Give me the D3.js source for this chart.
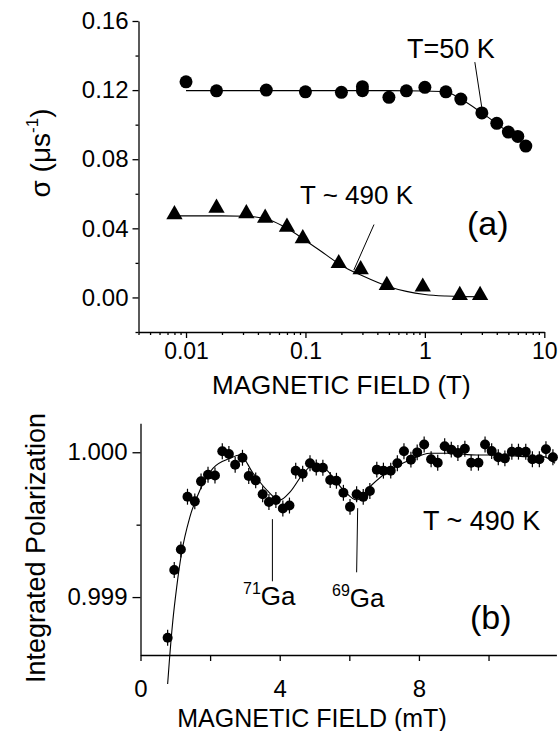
<!DOCTYPE html>
<html>
<head>
<meta charset="utf-8">
<script src="https://cdn.jsdelivr.net/npm/d3@7"></script>
<style>
body { margin: 0; background: #fff; }
text { font-family: "Liberation Sans", Arial, Helvetica, sans-serif; fill: #000; }
.axis path, .axis line { stroke: #000; stroke-width: 1.3; }
</style>
</head>
<body>
<svg id="chart" width="560" height="731"></svg>
<script>
// ---- panel (a): relaxation rate vs field (log axis) ----
var field50 = [0.01, 0.018, 0.047, 0.1, 0.2, 0.3, 0.3, 0.5, 0.7, 1.0, 1.5, 2.0, 3.0, 4.0, 5.0, 6.0, 7.0];
var sigma50 = [0.1248, 0.1196, 0.1200, 0.1190, 0.1187, 0.1220, 0.1197, 0.1158, 0.1196, 0.1216, 0.1190, 0.1148, 0.1068, 0.1008, 0.0957, 0.0932, 0.0876];
var fitField50 = [0.01, 0.1, 0.5, 1.0, 1.5, 2.0, 3.0, 4.0, 5.0, 7.0];
var fitSigma50 = [0.1197, 0.1197, 0.1197, 0.1195, 0.1190, 0.1148, 0.1068, 0.1006, 0.0955, 0.0878];

var field490 = [0.008, 0.018, 0.032, 0.046, 0.07, 0.095, 0.19, 0.29, 0.48, 0.96, 1.96, 2.9];
var sigma490 = [0.0480, 0.0518, 0.0486, 0.0460, 0.0408, 0.0341, 0.0197, 0.0162, 0.0071, 0.0061, 0.0013, 0.0013];
var fitField490 = [0.008, 0.02, 0.032, 0.05, 0.07, 0.1, 0.15, 0.2, 0.3, 0.5, 0.7, 1.0, 1.5, 2.0, 3.0];
var fitSigma490 = [0.0472, 0.0472, 0.0470, 0.0448, 0.0400, 0.0330, 0.0245, 0.0185, 0.0125, 0.0062, 0.0035, 0.0017, 0.0008, 0.0005, 0.0004];

var xTicksA = [0.01, 0.1, 1, 10];
var xLabelsA = ["0.01", "0.1", "1", "10"];
var yTicksA = [0.00, 0.04, 0.08, 0.12, 0.16];
var yLabelsA = ["0.00", "0.04", "0.08", "0.12", "0.16"];

// ---- panel (b): integrated polarization vs field (mT) ----
var fieldB = [0.78, 0.97, 1.16, 1.35, 1.56, 1.74, 1.94, 2.14, 2.35, 2.54, 2.72, 2.93, 3.11, 3.31, 3.51, 3.69, 3.89, 4.09, 4.28,
  4.46, 4.66, 4.87, 5.05, 5.24, 5.45, 5.63, 5.83, 6.02, 6.21, 6.40, 6.59, 6.79, 6.98, 7.19, 7.38, 7.57, 7.77, 7.95, 8.15,
  8.35, 8.54, 8.74, 8.93, 9.12, 9.32, 9.50, 9.71, 9.90, 10.09, 10.28, 10.47, 10.67, 10.86, 11.07, 11.26, 11.46, 11.65, 11.85];
var polB = [0.998719, 0.999187, 0.999328, 0.999693, 0.999661, 0.999799, 0.999845, 0.999839, 1.000007, 0.999988, 0.999914,
  0.999962, 0.999836, 0.999806, 0.999710, 0.999656, 0.999670, 0.999612, 0.999632, 0.999872, 0.999852, 0.999924, 0.999895,
  0.999893, 0.999808, 0.999803, 0.999720, 0.999623, 0.999710, 0.999692, 0.999733, 0.999880, 0.999873, 0.999873, 0.999924,
  1.000007, 0.999949, 0.999999, 1.000054, 0.999952, 0.999928, 1.000042, 1.000018, 0.999995, 1.000024, 0.999928, 0.999928,
  1.000054, 1.000008, 0.999965, 0.999958, 1.000004, 1.000004, 1.000004, 0.999952, 0.999952, 1.000021, 0.999965];
var polErr = 0.000055;
var fitFieldB = [0.78, 0.83, 0.93, 1.04, 1.18, 1.42, 1.71, 2.08, 2.57, 2.86, 3.23, 3.63, 4.0, 4.30, 4.68, 5.06, 5.35, 5.83,
  6.21, 6.59, 7.17, 7.74, 8.32, 8.89, 9.66, 10.24, 11.0, 11.57, 11.91];
var fitPolB = [0.998400, 0.998562, 0.998839, 0.999069, 0.999303, 0.999554, 0.999739, 0.999889, 0.999958, 0.999981, 0.999857,
  0.999739, 0.999670, 0.999727, 0.999855, 0.999924, 0.999877, 0.999739, 0.999670, 0.999762, 0.999877, 0.999947, 0.999993,
  0.999993, 0.999981, 0.999981, 0.999970, 0.999970, 0.999924];

var xTicksB = [0, 2, 4, 6, 8, 10];
var xLabelsB = ["0", "", "4", "", "8", ""];
var yTicksB = [0.999, 1.000];
var yLabelsB = ["0.999", "1.000"];

var svg = d3.select('#chart');

function zip(xs, ys) {
  return xs.map(function(x, i) { return { x: x, y: ys[i] }; });
}

// ================= panel (a) =================
var xA = d3.scaleLog().domain([0.004, 10]).range([138.5, 544.3]);
var yA = d3.scaleLinear().domain([-0.02, 0.16]).range([332, 21]);

var minorA = [];
[0.001, 0.01, 0.1, 1].forEach(function(d) {
  for (var k = 2; k <= 9; k++) {
    var v = d * k;
    if (v >= 0.004 && v <= 10) minorA.push(v);
  }
});

var gxA = svg.append('g').attr('class', 'axis').attr('transform', 'translate(0,332)');
gxA.call(d3.axisBottom(xA).tickValues(minorA).tickSize(3).tickSizeOuter(0).tickFormat(''));
var gxA2 = svg.append('g').attr('class', 'axis').attr('transform', 'translate(0,332)');
gxA2.call(d3.axisBottom(xA).tickValues(xTicksA).tickSize(6).tickSizeOuter(0)
  .tickFormat(function(d, i) { return xLabelsA[i]; }));
gxA2.select('.domain').remove();
gxA2.selectAll('text').attr('font-size', 23).attr('dy', null).attr('y', 27).attr('font-family', null);

var gyA = svg.append('g').attr('class', 'axis').attr('transform', 'translate(138.5,0)');
gyA.call(d3.axisLeft(yA).tickValues([-0.02, 0.02, 0.06, 0.10, 0.14]).tickSize(3).tickSizeOuter(0).tickFormat(''));
var gyA2 = svg.append('g').attr('class', 'axis').attr('transform', 'translate(138.5,0)');
gyA2.call(d3.axisLeft(yA).tickValues(yTicksA).tickSize(6).tickSizeOuter(0)
  .tickFormat(function(d, i) { return yLabelsA[i]; }));
gyA2.select('.domain').remove();
gyA2.selectAll('text').attr('font-size', 24).attr('x', -10).attr('font-family', null);

svg.append('text').attr('x', (xA.range()[0] + xA.range()[1]) / 2).attr('y', 394)
  .attr('text-anchor', 'middle').attr('font-size', 26).text('MAGNETIC FIELD (T)');

var yTitleA = svg.append('text').attr('transform', 'translate(50,153) rotate(-90)')
  .attr('text-anchor', 'middle').attr('font-size', 28);
yTitleA.append('tspan').text('σ (μs');
yTitleA.append('tspan').attr('font-size', 17).attr('dy', -12).text('-1');
yTitleA.append('tspan').attr('dy', 12).text(')');

var lineA = d3.line()
  .x(function(d) { return xA(d.x); })
  .y(function(d) { return yA(d.y); })
  .curve(d3.curveMonotoneX);

svg.append('path').datum(zip(fitField50, fitSigma50)).attr('d', lineA)
  .attr('fill', 'none').attr('stroke', '#000').attr('stroke-width', 1.1);
svg.append('path').datum(zip(fitField490, fitSigma490)).attr('d', lineA)
  .attr('fill', 'none').attr('stroke', '#000').attr('stroke-width', 1.1);

svg.selectAll('circle.t50').data(zip(field50, sigma50)).enter().append('circle')
  .attr('class', 't50')
  .attr('cx', function(d) { return xA(d.x); })
  .attr('cy', function(d) { return yA(d.y); })
  .attr('r', 6.5)
  .attr('fill', '#000');

var tri = d3.symbol().type(d3.symbolTriangle).size(115);
svg.selectAll('path.t490').data(zip(field490, sigma490)).enter().append('path')
  .attr('class', 't490')
  .attr('d', tri)
  .attr('transform', function(d) { return 'translate(' + xA(d.x) + ',' + yA(d.y) + ')'; })
  .attr('fill', '#000');

// annotations (a)
svg.append('line')
  .attr('x1', xA(2.62)).attr('y1', yA(0.1362))
  .attr('x2', xA(3.0)).attr('y2', yA(0.1097))
  .attr('stroke', '#000').attr('stroke-width', 1);
svg.append('text').attr('x', 407).attr('y', 58).attr('font-size', 27).text('T=50 K');

svg.append('line')
  .attr('x1', xA(0.375)).attr('y1', yA(0.0422))
  .attr('x2', xA(0.254)).attr('y2', yA(0.0158))
  .attr('stroke', '#000').attr('stroke-width', 1);
svg.append('text').attr('x', 300).attr('y', 204).attr('font-size', 26).text('T ~ 490 K');
svg.append('text').attr('x', 467).attr('y', 235).attr('font-size', 34).text('(a)');

// ================= panel (b) =================
var xB = d3.scaleLinear().domain([0, 11.95]).range([140.5, 556.4]);
var yB = d3.scaleLinear().domain([0.9986, 1.0002]).range([655, 423.3]);

var gxB = svg.append('g').attr('class', 'axis').attr('transform', 'translate(0,655)');
gxB.call(d3.axisBottom(xB).tickValues(xTicksB).tickSize(6).tickSizeOuter(0)
  .tickFormat(function(d, i) { return xLabelsB[i]; }));
gxB.selectAll('text').attr('font-size', 24).attr('dy', null).attr('y', 42).attr('font-family', null);

var gyB = svg.append('g').attr('class', 'axis').attr('transform', 'translate(140.5,0)');
gyB.call(d3.axisLeft(yB).tickValues([0.9995]).tickSize(4).tickSizeOuter(0).tickFormat(''));
var gyB2 = svg.append('g').attr('class', 'axis').attr('transform', 'translate(140.5,0)');
gyB2.call(d3.axisLeft(yB).tickValues(yTicksB).tickSize(8).tickSizeOuter(0)
  .tickFormat(function(d, i) { return yLabelsB[i]; }));
gyB2.select('.domain').remove();
gyB2.selectAll('text').attr('font-size', 24).attr('x', -13).attr('font-family', null);

svg.append('text').attr('x', 312).attr('y', 727)
  .attr('text-anchor', 'middle').attr('font-size', 25).text('MAGNETIC FIELD (mT)');

svg.append('text').attr('transform', 'translate(45,548) rotate(-90)')
  .attr('text-anchor', 'middle').attr('font-size', 27).text('Integrated Polarization');

var lineB = d3.line()
  .x(function(d) { return xB(d.x); })
  .y(function(d) { return yB(d.y); })
  .curve(d3.curveMonotoneX);

svg.append('path').datum(zip(fitFieldB, fitPolB)).attr('d', lineB)
  .attr('fill', 'none').attr('stroke', '#000').attr('stroke-width', 1.1);

var ptsB = svg.selectAll('g.pb').data(zip(fieldB, polB)).enter().append('g').attr('class', 'pb');
ptsB.append('line')
  .attr('x1', function(d) { return xB(d.x); })
  .attr('x2', function(d) { return xB(d.x); })
  .attr('y1', function(d) { return yB(d.y - polErr); })
  .attr('y2', function(d) { return yB(d.y + polErr); })
  .attr('stroke', '#000').attr('stroke-width', 1.2);
ptsB.append('circle')
  .attr('cx', function(d) { return xB(d.x); })
  .attr('cy', function(d) { return yB(d.y); })
  .attr('r', 5)
  .attr('fill', '#000');

// annotations (b)
svg.append('line')
  .attr('x1', xB(3.79)).attr('y1', yB(0.999538))
  .attr('x2', xB(3.79)).attr('y2', yB(0.999109))
  .attr('stroke', '#000').attr('stroke-width', 1);
svg.append('line')
  .attr('x1', xB(6.24)).attr('y1', yB(0.999614))
  .attr('x2', xB(6.21)).attr('y2', yB(0.999171))
  .attr('stroke', '#000').attr('stroke-width', 1);

var ga71 = svg.append('text').attr('x', 243).attr('y', 605).attr('font-size', 26);
ga71.append('tspan').attr('font-size', 16).attr('dy', -11).text('71');
ga71.append('tspan').attr('dy', 11).text('Ga');
var ga69 = svg.append('text').attr('x', 332).attr('y', 607).attr('font-size', 26);
ga69.append('tspan').attr('font-size', 16).attr('dy', -11).text('69');
ga69.append('tspan').attr('dy', 11).text('Ga');

svg.append('text').attr('x', 423).attr('y', 530).attr('font-size', 27).text('T ~ 490 K');
svg.append('text').attr('x', 470).attr('y', 629).attr('font-size', 34).text('(b)');
</script>
</body>
</html>
